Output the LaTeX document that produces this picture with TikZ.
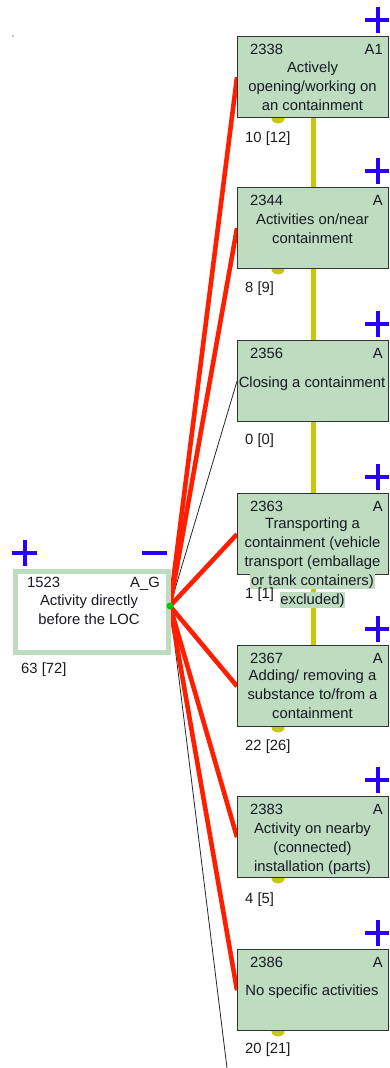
\documentclass[tikz,border=0pt]{standalone}
\usepackage{fontspec}
\setmainfont{Liberation Sans}
\pgfdeclarelayer{background}
\pgfsetlayers{background,main}
\definecolor{boxg}{RGB}{190,220,192}
\definecolor{redl}{RGB}{255,30,0}
\definecolor{yel}{RGB}{200,200,10}
\definecolor{plusb}{RGB}{40,0,255}
\definecolor{dotg}{RGB}{0,200,0}
\definecolor{txt}{RGB}{25,25,35}
\tikzset{
  cbox/.style={draw=black!80, line width=1.4pt, fill=boxg, minimum width=151pt, minimum height=81pt, inner sep=0pt, anchor=north west},
  srcbox/.style={draw=boxg, line width=5pt, fill=white, minimum width=153pt, minimum height=81pt, inner sep=0pt, anchor=north west},
  idt/.style={text=txt, font=\fontsize{14.8}{19}\selectfont, inner sep=0pt},
  desc/.style={text=txt, font=\fontsize{14.8}{19}\selectfont, inner sep=0pt, align=center},
  ovl/.style={text=txt, font=\fontsize{14.8}{19}\selectfont, inner sep=0.8pt, fill=boxg, text height=11.5pt, text depth=3.5pt, anchor=base},
  cnt/.style={text=txt, font=\fontsize{14.8}{19}\selectfont, inner sep=0pt, anchor=base west},
  redline/.style={draw=redl, line width=4.6pt},
  thinline/.style={draw=black!85, line width=0.8pt},
  yline/.style={draw=yel, line width=5pt},
  plussign/.style={draw=plusb, line width=4pt},
  tab/.style={fill=yel}
}
\begin{document}
\begin{tikzpicture}[x=1pt,y=-1pt]
\useasboundingbox (0,0) rectangle (389,1068);
\fill[black] (13,36) circle (0.7);

% source
\node[srcbox] (src) at (12.5,568.5) {};
\node[idt, anchor=base west] (srci) at (27,587.3) {1523};
\node[idt, anchor=base east] (srct) at (160,587.3) {A\_G};
\node[desc, anchor=north] (srcd) at (89,592) {\strut Activity directly\\before the LOC};
\node[cnt] (srcc) at (21,673.3) {63 [72]};
\node[circle, fill=dotg, inner sep=0pt, minimum size=7pt] (dot) at (170,606) {};
\draw[plussign] (12,553) -- (37,553) (25,540) -- (25,566);
\draw[plussign] (142,553) -- (167,553);

% boxes
\node[cbox] (b2338) at (237,36) {};
\node[idt, anchor=base west] (b2338i) at (250,54.3) {2338};
\node[idt, anchor=base east] (b2338t) at (383,54.3) {A1};
\node[desc, anchor=north] (b2338d) at (312.5,59) {\strut Actively\\opening/working on\\an containment};
\node[cnt] (b2338c) at (245,142.3) {10 [12]};

\node[cbox] (b2344) at (237,187) {};
\node[idt, anchor=base west] (b2344i) at (250,205.3) {2344};
\node[idt, anchor=base east] (b2344t) at (383,205.3) {A};
\node[desc, anchor=north] (b2344d) at (312.5,211) {\strut Activities on/near\\containment};
\node[cnt] (b2344c) at (245,292.3) {8 [9]};

\node[cbox] (b2356) at (237,340) {};
\node[idt, anchor=base west] (b2356i) at (250,358.3) {2356};
\node[idt, anchor=base east] (b2356t) at (383,358.3) {A};
\node[desc, anchor=north] (b2356d) at (312,374) {\strut Closing a containment};
\node[cnt] (b2356c) at (245,444.3) {0 [0]};

\node[cbox] (b2363) at (237,493) {};
\node[idt, anchor=base west] (b2363i) at (250,511.3) {2363};
\node[idt, anchor=base east] (b2363t) at (383,511.3) {A};
\node[ovl] (b2363a) at (312.5,528) {Transporting a};
\node[ovl] (b2363b) at (312.5,547) {containment (vehicle};
\node[ovl] (b2363e) at (312.5,566) {transport (emballage};
\node[ovl] (b2363f) at (312.5,585) {or tank containers)};
\node[ovl] (b2363g) at (312.5,604) {excluded)};
\node[cnt] (b2363c) at (245,598.3) {1 [1]};

\node[cbox] (b2367) at (237,645) {};
\node[idt, anchor=base west] (b2367i) at (250,663.3) {2367};
\node[idt, anchor=base east] (b2367t) at (383,663.3) {A};
\node[desc, anchor=north] (b2367d) at (312.5,667) {\strut Adding/ removing a\\substance to/from a\\containment};
\node[cnt] (b2367c) at (245,750.3) {22 [26]};

\node[cbox] (b2383) at (237,796) {};
\node[idt, anchor=base west] (b2383i) at (250,814.3) {2383};
\node[idt, anchor=base east] (b2383t) at (383,814.3) {A};
\node[desc, anchor=north] (b2383d) at (312.5,820) {\strut Activity on nearby\\(connected)\\installation (parts)};
\node[cnt] (b2383c) at (245,903.3) {4 [5]};

\node[cbox] (b2386) at (237,949) {};
\node[idt, anchor=base west] (b2386i) at (250,967.3) {2386};
\node[idt, anchor=base east] (b2386t) at (383,967.3) {A};
\node[desc, anchor=north] (b2386d) at (312,982) {\strut No specific activities};
\node[cnt] (b2386c) at (245,1053.3) {20 [21]};

\coordinate (offb) at (227,1068);

% plus signs
\foreach \t in {36,187,340,493,645,796,949}{
  \draw[plussign] (365,\t-16) -- (389,\t-16) (377.5,\t-29) -- (377.5,\t-3);
}

\begin{pgfonlayer}{background}
  \draw[yline] (b2338.south) -- (b2367.north);
  \foreach \b in {b2338,b2344,b2363,b2367,b2383,b2386}{
    \fill[tab] ([xshift=41pt]\b.south west) ellipse (6.5 and 5);
  }
  \draw[thinline] (dot.center) -- (b2356.west);
  \draw[thinline] (dot.center) -- (offb);
  \foreach \b in {b2338,b2344,b2363,b2367,b2383,b2386}{
    \draw[redline] (dot.center) -- (\b.west);
  }
\end{pgfonlayer}
\end{tikzpicture}
\end{document}
